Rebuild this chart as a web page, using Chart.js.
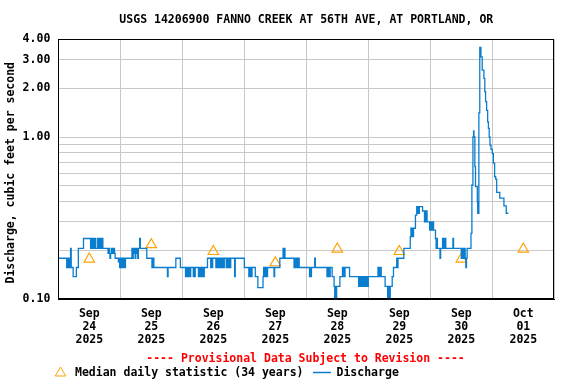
<!DOCTYPE html>
<html>
<head>
<meta charset="utf-8">
<script src="https://cdn.jsdelivr.net/npm/chart.js@4.4.0/dist/chart.umd.min.js"></script>
<style>
  html, body { margin: 0; padding: 0; background: #fff; }
  #wrap { width: 576px; height: 384px; }
</style>
</head>
<body>
<div id="wrap"><canvas id="flowChart" width="576" height="384"></canvas></div>
<script>
// hours counted from Sep 24 2025 00:00
const xTickHours = [0, 12, 24, 36, 48, 60, 72, 84, 96, 108, 120, 132, 144, 156, 168, 180, 192];
const dayNoonHours = [12, 36, 60, 84, 108, 132, 156, 180];
const dayLabels = [
  ['Sep', '24', '2025'], ['Sep', '25', '2025'], ['Sep', '26', '2025'], ['Sep', '27', '2025'],
  ['Sep', '28', '2025'], ['Sep', '29', '2025'], ['Sep', '30', '2025'], ['Oct', '01', '2025']
];
const yTickValues = [0.1, 0.2, 0.3, 0.4, 0.5, 0.6, 0.7, 0.8, 0.9, 1, 2, 3, 4];
const yLabelValues = [0.1, 1, 2, 3, 4];

const medianValues = [0.177, 0.217, 0.197, 0.168, 0.204, 0.197, 0.177, 0.204];

const dischargeHours = [
  // Sep 24
  0, 3.25, 3.5, 3.75, 4, 4.25, 4.5, 4.75, 5, 5.75, 7, 7.75, 9.75,
  12.5, 12.75, 13, 13.25, 13.5, 13.75, 14, 14.25, 14.5,
  15.25, 15.5, 15.75, 16, 16.25, 16.5, 17, 17.25,
  19.25, 19.5, 19.75, 20, 20.25, 20.5, 20.75, 21, 21.25, 21.5, 21.75, 22, 23.25, 23.5,
  // Sep 25
  23.75, 24, 24.25, 24.5, 24.75, 25, 25.25, 25.5, 25.75, 26,
  28.5, 28.75, 29, 29.25, 29.5, 29.75, 30, 30.25, 30.5, 30.75, 31, 31.5, 31.75,
  34.25, 36.25, 36.5, 37, 42.25, 42.5, 45.5, 47.25,
  // Sep 26
  49.25, 49.75, 50, 50.25, 50.5, 50.75, 51, 51.25, 52.25, 52.5, 52.75, 53,
  54.25, 54.5, 54.75, 55, 55.25, 55.5, 55.75, 56, 56.25, 56.5,
  57.75, 59, 59.25, 59.5, 59.75, 61, 61.25, 61.5, 61.75, 62, 62.25, 62.5, 62.75,
  63, 63.25, 63.5, 63.75, 64, 64.25, 65, 65.25, 65.5, 65.75, 66, 66.25, 66.5, 66.75,
  68.25, 68.5, 72,
  // Sep 27
  73.75, 74, 74.25, 74.5, 74.75, 75, 76.25, 77.25, 79.25,
  79.5, 79.75, 80, 80.25, 80.5, 80.75, 81, 83.5, 83.75,
  85.75, 87, 87.25, 87.5, 87.75, 91.25, 91.5, 91.75, 92, 92.25, 92.5, 92.75, 93, 93.25,
  // Sep 28
  97.25, 97.5, 97.75, 98, 99.25, 99.5,
  104, 104.25, 104.5, 104.75, 105, 105.25, 106, 106.75, 107, 107.25, 107.5, 107.75,
  109, 110, 110.25, 110.5, 110.75, 111, 112.75,
  116.25, 116.5, 117, 117.25, 117.75, 118, 118.25, 118.5, 118.75, 119, 119.25, 119.5, 119.75, 120,
  // Sep 29
  123.75, 124, 124.25, 124.5, 124.75, 125, 126.5, 127.5, 127.75, 128, 128.5, 129.25, 129.75,
  131, 131.25, 131.5, 133.75, 136.25, 136.5, 136.75, 137, 137.25, 137.5, 138.25,
  138.75, 139, 139.25, 139.5, 139.75, 141, 141.75, 142, 142.25, 142.5, 142.75,
  143.75, 144, 144.25, 144.5, 144.75, 145, 145.25,
  // Sep 30
  146, 146.25, 146.5, 146.75, 147.75, 148, 148.75, 149, 149.25, 149.5, 149.75, 150,
  152.75, 153, 156, 156.25, 156.5, 156.75, 157, 157.25, 157.5, 157.75, 158, 158.25,
  159.75, 160.1, 160.5, 160.75, 160.9, 161.25, 161.5,
  162.2, 162.35, 162.5, 162.65, 162.8, 163.15, 163.3, 163.45, 163.6,
  164.1, 164.75, 165.1, 165.4, 165.8, 166.2, 166.5, 166.8, 167.1, 167.5,
  // Oct 1
  168, 168.4, 168.9, 169.3, 169.7, 170.9, 172.5, 173.4, 174.2
];

const dischargeValues = [
  // Sep 24
  0.179, 0.157, 0.179, 0.157, 0.179, 0.157, 0.179, 0.206, 0.157, 0.138, 0.157, 0.206, 0.237,
  0.206, 0.237, 0.206, 0.237, 0.206, 0.237, 0.206, 0.237, 0.206,
  0.237, 0.206, 0.237, 0.206, 0.237, 0.206, 0.237, 0.206,
  0.192, 0.206, 0.192, 0.179, 0.192, 0.206, 0.192, 0.206, 0.192, 0.206, 0.192, 0.179, 0.17, 0.179,
  // Sep 25
  0.157, 0.179, 0.157, 0.179, 0.157, 0.179, 0.157, 0.179, 0.157, 0.179,
  0.206, 0.179, 0.206, 0.192, 0.206, 0.179, 0.206, 0.192, 0.206, 0.179, 0.206, 0.237, 0.206,
  0.179, 0.157, 0.179, 0.157, 0.138, 0.157, 0.179, 0.157,
  // Sep 26
  0.138, 0.157, 0.138, 0.157, 0.138, 0.157, 0.138, 0.157, 0.138, 0.157, 0.138, 0.157,
  0.138, 0.157, 0.138, 0.157, 0.138, 0.157, 0.138, 0.157, 0.138, 0.157,
  0.179, 0.157, 0.179, 0.157, 0.179, 0.157, 0.179, 0.157, 0.179, 0.157, 0.179, 0.157, 0.179,
  0.157, 0.179, 0.157, 0.179, 0.157, 0.179, 0.157, 0.179, 0.157, 0.179, 0.157, 0.179, 0.157, 0.179,
  0.138, 0.179, 0.157,
  // Sep 27
  0.138, 0.157, 0.138, 0.157, 0.138, 0.157, 0.138, 0.118, 0.138,
  0.157, 0.138, 0.157, 0.138, 0.157, 0.138, 0.157, 0.138, 0.157,
  0.179, 0.206, 0.179, 0.206, 0.179, 0.157, 0.179, 0.157, 0.179, 0.157, 0.179, 0.157, 0.179, 0.157,
  // Sep 28
  0.138, 0.157, 0.138, 0.157, 0.179, 0.157,
  0.138, 0.157, 0.138, 0.157, 0.138, 0.157, 0.138, 0.12, 0.1, 0.12, 0.1, 0.12,
  0.138, 0.157, 0.138, 0.157, 0.138, 0.157, 0.138,
  0.12, 0.138, 0.12, 0.138, 0.12, 0.138, 0.12, 0.138, 0.12, 0.138, 0.12, 0.138, 0.12, 0.138,
  // Sep 29
  0.157, 0.138, 0.157, 0.138, 0.157, 0.138, 0.12, 0.1, 0.12, 0.1, 0.12, 0.138, 0.157,
  0.179, 0.157, 0.179, 0.206, 0.243, 0.274, 0.243, 0.274, 0.243, 0.274, 0.33,
  0.372, 0.339, 0.372, 0.339, 0.372, 0.35, 0.3, 0.35, 0.3, 0.35, 0.3,
  0.267, 0.3, 0.267, 0.3, 0.267, 0.3, 0.267,
  // Sep 30
  0.237, 0.206, 0.237, 0.206, 0.179, 0.206, 0.237, 0.206, 0.237, 0.206, 0.237, 0.206,
  0.237, 0.206, 0.179, 0.206, 0.179, 0.206, 0.179, 0.206, 0.179, 0.157, 0.179, 0.206,
  0.255, 0.506, 1.0, 1.09, 1.0, 0.656, 0.494,
  0.399, 0.339, 0.399, 0.339, 1.41, 3.57, 3.12, 3.57, 3.12,
  2.58, 2.3, 1.9, 1.65, 1.46, 1.24, 1.13, 1.0, 0.89, 0.84,
  // Oct 1
  0.79, 0.69, 0.57, 0.55, 0.456, 0.42, 0.376, 0.339, 0.339
];

const titleText = 'USGS 14206900 FANNO CREEK AT 56TH AVE, AT PORTLAND, OR';
const provisionalNote = '---- Provisional Data Subject to Revision ----';
const medianLabel = 'Median daily statistic (34 years)';
const dischargeLabel = 'Discharge';

const monoFont = "'DejaVu Sans Mono', 'Liberation Mono', monospace";
const flowBlue = '#0a7dcf';
const medianOrange = '#ffa200';
const gridGray = '#c8c8c8';

Chart.defaults.font.family = monoFont;
Chart.defaults.font.size = 11.5;
Chart.defaults.font.weight = 'bold';
Chart.defaults.color = '#000';

function isNear(a, b) {
  return Math.abs(a - b) < 1e-9;
}

const frameAndNotes = {
  id: 'frameAndNotes',
  afterDraw(chart) {
    const { ctx, chartArea: area } = chart;
    ctx.save();
    ctx.strokeStyle = '#000';
    ctx.lineWidth = 1;
    ctx.strokeRect(Math.round(area.left) + 0.5, Math.round(area.top) + 0.5,
      Math.round(area.right - area.left) - 1, Math.round(area.bottom - area.top) - 1);

    ctx.font = `bold 11.5px ${monoFont}`;
    ctx.textBaseline = 'middle';
    ctx.textAlign = 'center';
    ctx.fillStyle = '#ff0000';
    ctx.fillText(provisionalNote, 305.5, 359);

    // legend row
    ctx.strokeStyle = medianOrange;
    ctx.fillStyle = 'rgba(0,0,0,0)';
    Chart.helpers.drawPoint(ctx, { pointStyle: 'triangle', radius: 6, borderWidth: 1.2, rotation: 0 }, 60.5, 373);
    ctx.fillStyle = '#000';
    ctx.textAlign = 'left';
    ctx.fillText(medianLabel, 75, 373);
    ctx.strokeStyle = flowBlue;
    ctx.lineWidth = 1.5;
    ctx.beginPath();
    ctx.moveTo(313, 372.5);
    ctx.lineTo(331, 372.5);
    ctx.stroke();
    ctx.fillText(dischargeLabel, 336.5, 373);
    ctx.restore();
  }
};

new Chart(document.getElementById('flowChart'), {
  type: 'line',
  data: {
    datasets: [
      {
        label: dischargeLabel,
        data: dischargeHours.map((h, i) => ({ x: h, y: dischargeValues[i] })),
        borderColor: flowBlue,
        borderWidth: 1.3,
        pointRadius: 0,
        stepped: true,
        fill: false,
        order: 1
      },
      {
        label: medianLabel,
        data: dayNoonHours.map((h, i) => ({ x: h, y: medianValues[i] })),
        showLine: false,
        pointStyle: 'triangle',
        pointRadius: 6,
        pointBorderWidth: 1.2,
        pointBorderColor: medianOrange,
        pointBackgroundColor: 'rgba(0,0,0,0)',
        order: 2
      }
    ]
  },
  options: {
    responsive: false,
    devicePixelRatio: 1,
    animation: false,
    layout: { padding: { left: 0, right: 21.7, top: 0, bottom: 34.7 } },
    plugins: {
      legend: { display: false },
      tooltip: { enabled: false },
      title: {
        display: true,
        text: titleText,
        fullSize: false,
        font: { size: 11.5, weight: 'bold', lineHeight: '14px' },
        padding: { top: 13, bottom: 12.3 }
      }
    },
    scales: {
      x: {
        type: 'linear',
        min: 0,
        max: 192,
        afterBuildTicks: (scale) => { scale.ticks = xTickHours.map(v => ({ value: v })); },
        afterFit: (scale) => { scale.height = 50; },
        ticks: {
          autoSkip: false,
          maxRotation: 0,
          padding: 8,
          font: { lineHeight: '13px' },
          callback: (value) => {
            const i = dayNoonHours.indexOf(value);
            return i >= 0 ? dayLabels[i] : '';
          }
        },
        grid: {
          drawTicks: false,
          color: (ctx) => (ctx.tick && ctx.tick.value % 24 === 0 ? gridGray : 'rgba(0,0,0,0)')
        },
        border: { color: '#000' }
      },
      y: {
        type: 'logarithmic',
        min: 0.1,
        max: 4,
        afterBuildTicks: (scale) => { scale.ticks = yTickValues.map(v => ({ value: v })); },
        afterFit: (scale) => { scale.width = 58.3; },
        ticks: {
          autoSkip: false,
          padding: 8,
          callback: (value) => (yLabelValues.some(v => isNear(v, value)) ? value.toFixed(2) : '')
        },
        grid: { drawTicks: false, color: gridGray },
        border: { color: '#000' },
        title: {
          display: true,
          text: 'Discharge, cubic feet per second ',
          padding: { top: 4, bottom: 4 }
        }
      }
    }
  },
  plugins: [frameAndNotes]
});
</script>
</body>
</html>
